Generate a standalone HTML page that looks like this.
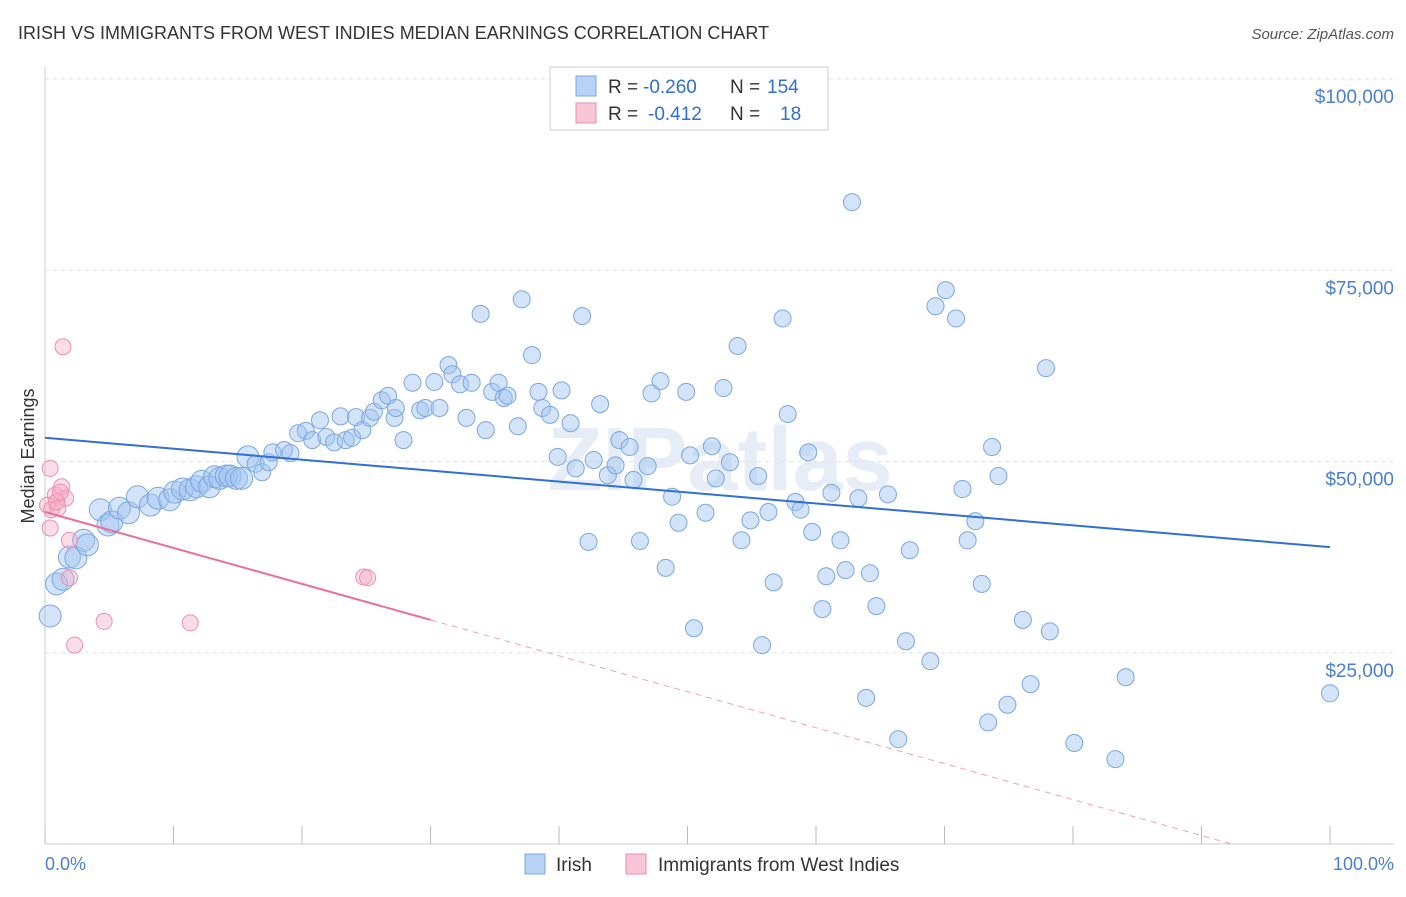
<!DOCTYPE html>
<html><head><meta charset="utf-8"><style>
body{margin:0;background:#fff;font-family:"Liberation Sans",sans-serif;}
svg text{font-family:"Liberation Sans",sans-serif;}
</style></head><body>
<svg id="chart" width="1406" height="892" xmlns="http://www.w3.org/2000/svg">
<text x="18" y="39" font-size="18" fill="#333">IRISH VS IMMIGRANTS FROM WEST INDIES MEDIAN EARNINGS CORRELATION CHART</text>
<text x="1394" y="39" font-size="15" fill="#555" font-style="italic" text-anchor="end">Source: ZipAtlas.com</text>
<text x="720" y="490" font-size="90" fill="#e6edf6" text-anchor="middle" font-weight="bold">ZIPatlas</text>
<g id="grid"></g>
<g id="axes"></g>
<g id="pts"></g>
<g id="lines"></g>
<text transform="translate(34,456) rotate(-90)" font-size="18" fill="#333" text-anchor="middle">Median Earnings</text>
<text x="45" y="870" font-size="18" fill="#4a7fd0">0.0%</text>
<text x="1394" y="870" font-size="18" fill="#4a7fd0" text-anchor="end">100.0%</text>
<g>
<rect x="550" y="67" width="278" height="63" fill="#fff" stroke="#ccc"/>
<rect x="576" y="76" width="20" height="20" fill="#b7d2f5" stroke="#7ba7e0"/>
<text x="608" y="93" font-size="19" fill="#333">R =</text>
<text x="643" y="93" font-size="19" fill="#2f6fd6">-0.260</text>
<text x="730" y="93" font-size="19" fill="#333">N =</text>
<text x="767" y="93" font-size="19" fill="#2f6fd6">154</text>
<rect x="576" y="103" width="20" height="20" fill="#f8c6d6" stroke="#ec8fb0"/>
<text x="608" y="120" font-size="19" fill="#333">R =</text>
<text x="648" y="120" font-size="19" fill="#2f6fd6">-0.412</text>
<text x="730" y="120" font-size="19" fill="#333">N =</text>
<text x="780" y="120" font-size="19" fill="#2f6fd6">18</text>
</g>
<g>
<rect x="525" y="854" width="20" height="20" fill="#b7d2f5" stroke="#7ba7e0"/>
<text x="556" y="871" font-size="19" fill="#333">Irish</text></g>
<g>
<rect x="626" y="854" width="20" height="20" fill="#f8c6d6" stroke="#ec8fb0"/>
<text x="658" y="871" font-size="19" fill="#333">Immigrants from West Indies</text></g>
</svg>
<script>
const yTicks=[25000,50000,75000,100000];
const yTickLabels=["$25,000","$50,000","$75,000","$100,000"];
const irishX=[0.4,0.9,1.4,1.9,2.4,3.0,3.3,4.3,4.9,5.2,5.8,6.5,7.2,8.2,8.8,9.7,10.1,10.7,11.3,11.8,12.2,12.8,13.2,13.6,14.1,14.4,14.9,15.3,15.8,16.4,16.9,17.4,17.7,18.6,19.1,19.7,20.3,20.8,21.4,21.9,22.5,23.0,23.4,23.9,24.2,24.7,25.3,25.6,26.2,26.7,27.2,27.3,27.9,28.6,29.2,29.6,30.3,30.7,31.4,31.7,32.3,32.8,33.2,33.9,34.3,34.8,35.3,35.7,36.0,36.8,37.1,37.9,38.4,38.7,39.3,39.9,40.2,40.9,41.3,41.8,42.3,42.7,43.2,43.8,44.4,44.7,45.5,45.8,46.3,46.9,47.2,47.9,48.3,48.8,49.3,49.9,50.5,50.2,51.4,51.9,52.2,52.8,53.3,53.9,54.2,54.9,55.5,55.8,56.3,56.7,57.4,57.8,58.4,58.8,59.4,59.7,60.5,60.8,61.2,61.9,62.3,62.8,63.3,63.9,64.2,64.7,65.6,66.4,67.0,67.3,68.9,69.3,70.1,70.9,71.4,71.8,72.4,72.9,73.4,73.7,74.2,74.9,76.1,76.7,77.9,78.2,80.1,83.3,84.1,100];
const irishY=[29.8,34.0,34.6,37.5,37.4,39.7,39.1,43.7,41.7,42.1,43.9,43.3,45.4,44.3,45.2,45.0,46.0,46.4,46.3,46.7,47.4,46.7,48.0,47.8,48.1,48.1,47.8,47.8,50.6,49.7,48.6,49.9,51.2,51.5,51.1,53.7,54.0,52.8,55.4,53.2,52.5,55.9,52.8,53.1,55.8,54.1,55.7,56.5,58.0,58.6,55.7,57.0,52.8,60.3,56.7,57.0,60.4,57.0,62.6,61.4,60.1,55.7,60.3,69.3,54.1,59.1,60.3,58.3,58.6,54.6,71.2,63.9,59.1,57.0,56.1,50.6,59.3,55.0,49.1,69.0,39.5,50.2,57.5,48.2,49.5,52.8,51.9,47.6,39.6,49.4,58.9,60.5,36.1,45.4,42.0,59.1,28.2,50.8,43.3,52.0,47.8,59.6,49.9,65.1,39.7,42.3,48.1,26.0,43.4,34.2,68.7,56.2,44.7,43.7,51.2,40.8,30.7,35.0,45.9,39.7,35.8,83.9,45.2,19.1,35.4,31.1,45.7,13.7,26.5,38.4,23.9,70.3,72.4,68.7,46.4,39.7,42.2,34.0,15.9,51.9,48.1,18.2,29.3,20.9,62.2,27.8,13.2,11.1,21.8,19.7];
const wiX=[1.4,0.4,0.8,0.2,0.5,1.0,1.3,1.6,0.4,1.9,1.9,2.3,4.6,11.3,24.8,25.1,0.9,1.2];
const wiY=[65.0,49.1,45.6,44.3,43.7,43.9,46.7,45.2,41.3,39.7,34.8,26.0,29.1,28.9,34.9,34.8,44.7,46.0];
const irishTrend=[53.1,38.8];
const wiTrend=[43.4,-3.6];
const wiSolidEnd=30;

const NS="http://www.w3.org/2000/svg";
const X0=45,X1=1330,YB=844,YT=79;
const sx=v=>X0+(X1-X0)*v/100;
const sy=v=>YB-(YB-YT)*v/100000;
function mk(tag,attrs,parent){const e=document.createElementNS(NS,tag);for(const k in attrs)e.setAttribute(k,attrs[k]);parent.appendChild(e);return e;}
const grid=document.getElementById('grid'),axes=document.getElementById('axes'),pts=document.getElementById('pts'),lines=document.getElementById('lines');
yTicks.forEach((t,i)=>{
 const g=mk('line',{x1:45,x2:1394,y1:sy(t),y2:sy(t),stroke:'#e2e2e2','stroke-dasharray':'4,4'},grid);
 
 
 const tx=mk('text',{x:1394,y:sy(t)+24,'font-size':19,fill:'#4a7fd0','text-anchor':'end'},axes);
 tx.textContent=yTickLabels[i];
 
 
});
const xa=mk('line',{x1:45,x2:1394,y1:YB,y2:YB,stroke:'#ccc'},axes);


const ya=mk('line',{x1:45,x2:45,y1:67,y2:YB,stroke:'#ccc'},axes);


for(let i=0;i<=10;i++){
 const t=mk('line',{x1:sx(i*10),x2:sx(i*10),y1:826,y2:YB,stroke:'#bbb'},axes);
 
 
}
irishX.forEach((x,i)=>{
 const r=x<16?11:8.5;
 const c=mk('circle',{cx:sx(x),cy:sy(irishY[i]*1000),r:r,fill:'rgba(160,196,240,0.45)',stroke:'#7ba7e0','stroke-width':1},pts);
 
 
});
wiX.forEach((x,i)=>{
 const c=mk('circle',{cx:sx(x),cy:sy(wiY[i]*1000),r:8,fill:'rgba(244,170,195,0.4)',stroke:'#ec8fb0','stroke-width':1},pts);
 
 
});
const bl=mk('line',{x1:sx(0),y1:sy(irishTrend[0]*1000),x2:sx(100),y2:sy(irishTrend[1]*1000),stroke:'#2f6fd6','stroke-width':2},lines);


const wv=x=>wiTrend[0]+(wiTrend[1]-wiTrend[0])*x/100;
const xz=100*wiTrend[0]/(wiTrend[0]-wiTrend[1]);
const pl=mk('line',{x1:sx(0),y1:sy(wv(0)*1000),x2:sx(wiSolidEnd),y2:sy(wv(wiSolidEnd)*1000),stroke:'#e8709a','stroke-width':2},lines);


const pd=mk('line',{x1:sx(wiSolidEnd),y1:sy(wv(wiSolidEnd)*1000),x2:sx(Math.min(xz,100)),y2:sy(Math.max(wv(Math.min(xz,100)),0)*1000),stroke:'#f0a0bc','stroke-width':1,'stroke-dasharray':'6,5'},lines);


</script>
</body></html>
